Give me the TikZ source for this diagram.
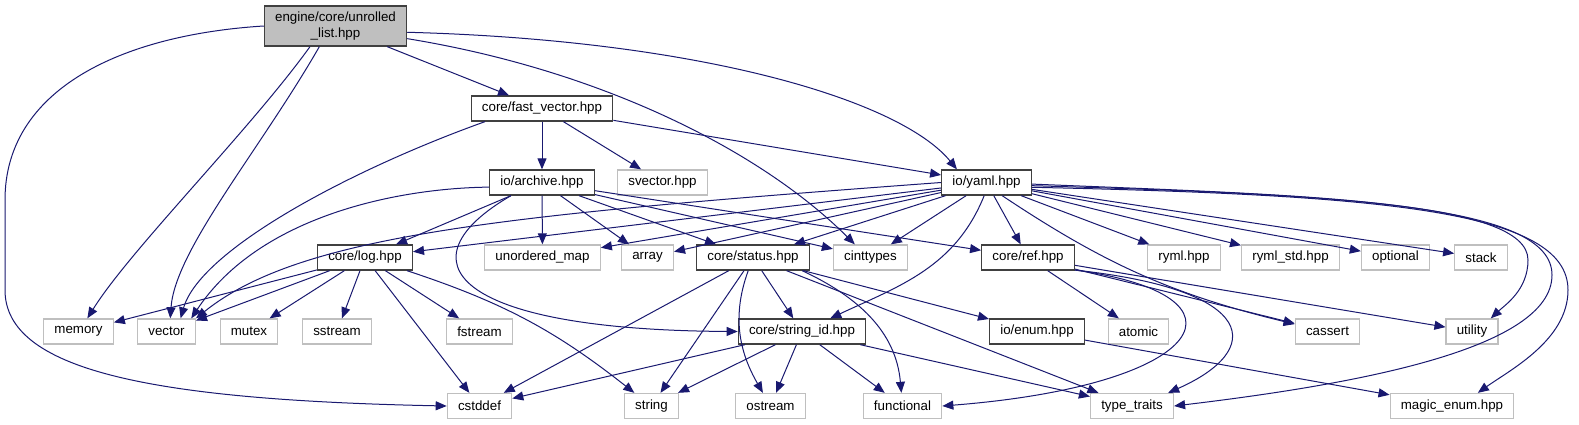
\documentclass[tikz,border=0pt]{standalone}
\usepackage{fontspec}
\setmainfont{Liberation Sans}
\usepackage{tikz}
\usetikzlibrary{arrows.meta}
\definecolor{midnightblue}{RGB}{25, 25, 112}
\definecolor{sysgrey}{RGB}{191, 191, 191}
\definecolor{docgrey}{RGB}{64, 64, 64}

\begin{document}
\begin{tikzpicture}[x=0.75pt, y=-0.75pt,
  box/.style={draw=sysgrey, line width=1pt, fill=white, minimum height=18.75pt, inner xsep=8pt, inner ysep=0pt, font=\fontsize{10}{11.5}\selectfont},
  docbox/.style={box, draw=docgrey},
  dep/.style={draw=midnightblue, line width=0.75pt, -{Triangle[length=8.25pt, width=6.75pt]}}]
  \fill[white] (0,0) rectangle (1579,425);
  \useasboundingbox (0,0) rectangle (1579,425);
  \node[docbox, fill=sysgrey, align=center, minimum height=30pt] (unrolled) at (335.5,26) {engine/core/unrolled\\\_list.hpp};
  \node[docbox] (fastvec) at (542,108.5) {core/fast\_vector.hpp};
  \node[docbox] (archive) at (542,182.5) {io/archive.hpp};
  \node[docbox] (yaml) at (986.5,182.5) {io/yaml.hpp};
  \node[docbox] (log) at (365,257.5) {core/log.hpp};
  \node[docbox] (status) at (753,257.5) {core/status.hpp};
  \node[docbox] (ref) at (1028,257.5) {core/ref.hpp};
  \node[docbox] (stringid) at (802,331.5) {core/string\_id.hpp};
  \node[docbox] (enum) at (1037,331.5) {io/enum.hpp};
  \node[box] (svector) at (662.5,182.5) {svector.hpp};
  \foreach \n/\x/\t in {umap/542.5/unordered\_map, array/647.5/array, cinttypes/870.5/cinttypes, ryml/1184/ryml.hpp, rymlstd/1290.5/ryml\_std.hpp, optional/1395.5/optional, stack/1481/stack} { \node[box] (\n) at (\x,257.5) {\t}; }
  \foreach \n/\x/\t in {memory/78.5/memory, vector/166.5/vector, mutex/249/mutex, sstream/337/sstream, fstream/479.5/fstream, atomic/1138.5/atomic, cassert/1327.5/cassert, utility/1472/utility} { \node[box] (\n) at (\x,331.5) {\t}; }
  \foreach \n/\x/\t in {cstddef/479.5/cstddef, string/651.5/string, ostream/770.5/ostream, functional/902.5/functional, typetraits/1132/type\_traits, magicenum/1452/magic\_enum.hpp} { \node[box] (\n) at (\x,406) {\t}; }
  \foreach \a/\b in {unrolled/fastvec, fastvec/archive, fastvec/svector, fastvec/yaml, archive/log, archive/umap, archive/array, archive/status, archive/cinttypes, archive/ref, yaml/log, yaml/umap, yaml/array, yaml/status, yaml/cinttypes, yaml/ref, yaml/ryml, yaml/rymlstd, yaml/optional, yaml/stack, log/memory, log/vector, log/mutex, log/sstream, log/fstream, log/cstddef, status/cstddef, status/string, status/stringid, status/typetraits, status/enum, ref/atomic, ref/cassert, ref/utility, stringid/cstddef, stringid/string, stringid/ostream, stringid/functional, stringid/typetraits, enum/magicenum} { \draw[dep] (\a) -- (\b); }
  \draw[dep] (unrolled.west) .. controls (120,35) and (5,90) .. (5,200) -- (5,290) .. controls (5,370) and (150,400) .. (cstddef.west);
  \draw[dep] (unrolled.-141) .. controls (250,130) and (130,250) .. (memory.56);
  \draw[dep] (unrolled.-128) .. controls (260,150) and (175,250) .. (vector.74);
  \draw[dep] (unrolled.-10) .. controls (600,70) and (760,150) .. (cinttypes.140);
  \draw[dep] (unrolled.-5) .. controls (700,40) and (900,100) .. (yaml.156);
  \draw[dep] (fastvec.-167) .. controls (350,170) and (200,250) .. (vector.43);
  \draw[dep] (archive.-175) .. controls (400,188) and (260,215) .. (vector.28);
  \draw[dep] (archive.-157) .. controls (400,260) and (450,330) .. (stringid.west);
  \draw[dep] (yaml.west) .. controls (500,215) and (300,235) .. (vector.north east);
  \draw[dep] (yaml.-100) to[out=-112, in=25] (stringid);
  \draw[dep] (yaml.-40) to[bend right=10] (cassert);
  \draw[dep] (yaml.-2) .. controls (1300,195) and (1528,200) .. (1528,260) .. controls (1528,290) and (1505,305) .. (utility.35);
  \draw[dep] (yaml.-4) .. controls (1350,195) and (1552,205) .. (1552,275) .. controls (1552,350) and (1350,385) .. (typetraits.east);
  \draw[dep] (yaml.-6) .. controls (1380,195) and (1568,210) .. (1568,290) .. controls (1568,340) and (1510,370) .. (magicenum.27);
  \draw[dep] (log) to[bend left=10] (string);
  \draw[dep] (status.-110) to[out=-110, in=120] (ostream);
  \draw[dep] (status.-15) to[out=-25, in=95] (functional);
  \draw[dep] (ref.-15) .. controls (1260,295) and (1210,385) .. (functional.east);
  \draw[dep] (ref.-15) .. controls (1260,290) and (1265,350) .. (typetraits.20);
\end{tikzpicture}
\end{document}
